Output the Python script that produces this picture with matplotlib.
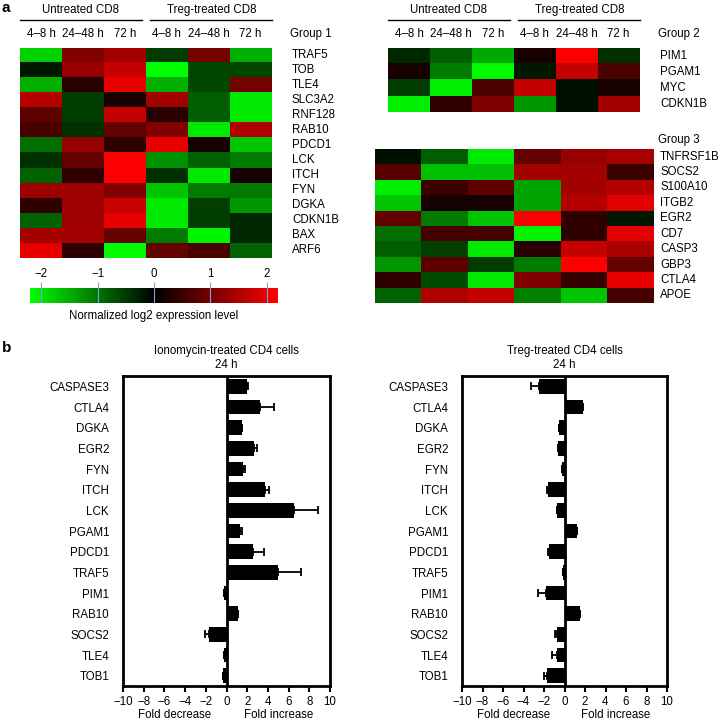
import matplotlib.pyplot as plt
import numpy as np
from matplotlib.colors import LinearSegmentedColormap
from matplotlib.transforms import blended_transform_factory

plt.rcParams["font.family"] = ["Liberation Sans", "DejaVu Sans"]
FS = 8.3

# ---- data -------------------------------------------------------------
conditions = ["Untreated CD8", "Treg-treated CD8"]
time_points = ["4–8 h", "24–48 h", "72 h"]

group1_genes = ["TRAF5", "TOB", "TLE4", "SLC3A2", "RNF128", "RAB10", "PDCD1",
                "LCK", "ITCH", "FYN", "DGKA", "CDKN1B", "BAX", "ARF6"]
group1_values = [
    [-1.8, 1.1, 1.4, -0.5, 1.0, -1.5],
    [-0.2, 1.3, 1.7, -2.2, -0.6, -0.6],
    [-1.5, 0.35, 2.0, -1.5, -0.6, 1.0],
    [1.55, -0.5, 0.2, 1.4, -0.8, -2.0],
    [0.8, -0.5, 1.7, 0.35, -0.8, -2.0],
    [0.6, -0.4, 0.85, 1.1, -2.0, 1.5],
    [-0.95, 1.3, 0.4, 2.0, 0.2, -1.7],
    [-0.4, 0.85, 2.15, -1.25, -0.85, -1.05],
    [-0.85, 0.4, 2.15, -0.4, -2.0, 0.2],
    [1.35, 1.35, 1.1, -1.7, -1.05, -1.05],
    [0.4, 1.35, 1.75, -2.0, -0.55, -1.3],
    [-0.85, 1.35, 2.0, -2.0, -0.5, -0.35],
    [1.4, 1.4, 0.85, -1.05, -2.1, -0.35],
    [2.0, 0.4, -2.15, 0.85, 0.65, -0.85],
]

group2_genes = ["PIM1", "PGAM1", "MYC", "CDKN1B"]
group2_values = [
    [-0.35, -0.8, -1.45, 0.2, 2.15, -0.4],
    [0.2, -1.05, -2.15, -0.2, 1.7, 0.65],
    [-0.5, -2.05, 0.65, 1.7, -0.15, 0.2],
    [-2.05, 0.4, 1.1, -1.3, -0.15, 1.4],
]

group3_genes = ["TNFRSF1B", "SOCS2", "S100A10", "ITGB2", "EGR2", "CD7",
                "CASP3", "GBP3", "CTLA4", "APOE"]
group3_values = [
    [-0.15, -0.8, -2.0, 0.85, 1.3, 1.45],
    [0.75, -1.65, -1.65, 1.4, 1.4, 0.5],
    [-2.05, 0.5, 0.8, -1.4, 1.4, 1.55],
    [-1.7, 0.2, 0.2, -1.4, 1.55, 1.95],
    [0.85, -1.05, -1.7, 2.15, 0.4, -0.2],
    [-0.95, 0.6, 0.6, -2.1, 0.4, 1.95],
    [-0.8, -0.55, -2.0, 0.35, 1.7, 1.45],
    [-1.3, 0.8, -0.5, -1.05, 2.15, 0.85],
    [0.4, -0.65, -2.0, 1.1, 0.45, 2.0],
    [-0.85, 1.5, 1.7, -1.1, -1.7, 0.6],
]

cbar_ticks = [-2, -1, 0, 1, 2]

bar_genes = ["CASPASE3", "CTLA4", "DGKA", "EGR2", "FYN", "ITCH", "LCK", "PGAM1",
             "PDCD1", "TRAF5", "PIM1", "RAB10", "SOCS2", "TLE4", "TOB1"]
iono_fold = [2.0, 3.2, 1.5, 2.7, 1.6, 3.7, 6.5, 1.35, 2.6, 5.0, -0.25, 1.1, -1.65, -0.2, -0.35]
iono_err = [0.1, 1.4, 0.0, 0.2, 0.2, 0.4, 2.3, 0.1, 1.0, 2.2, 0.0, 0.0, 0.45, 0.0, 0.0]
treg_fold = [-2.45, 1.8, -0.5, -0.65, -0.25, -1.6, -0.7, 1.2, -1.5, -0.15, -1.8, 1.5, -0.7, -0.75, -1.7]
treg_err = [0.8, 0.0, 0.0, 0.0, 0.0, 0.1, 0.0, 0.0, 0.1, 0.0, 0.75, 0.0, 0.2, 0.45, 0.3]

# ---- layout -----------------------------------------------------------
W, H = 720, 722
fig = plt.figure(figsize=(7.2, 7.22), dpi=100)
cmap = LinearSegmentedColormap.from_list("gkr", ["#00ff00", "#000000", "#ff0000"])
VMIN, VMAX = -2.2, 2.2


def rect(l, t, r, b):
    # pixel box (from top-left) -> figure fraction
    return [l / W, 1 - b / H, (r - l) / W, (b - t) / H]


def heatmap(l, t, r, b, genes, values, group, header=True):
    ax = fig.add_axes(rect(l, t, r, b))
    im = ax.imshow(np.array(values), cmap=cmap, vmin=VMIN, vmax=VMAX,
                   aspect="auto", interpolation="nearest")
    ax.set_axis_off()
    trans = blended_transform_factory(ax.transAxes, ax.transData)
    for i, g in enumerate(genes):
        ax.text(1.0 + 7 / (r - l), i, g, transform=trans, ha="left",
                va="center", fontsize=FS)
    xt = blended_transform_factory(ax.transData, ax.transAxes)
    if header:
        for j in range(6):
            ax.text(j, 1 + 14 / (b - t), time_points[j % 3], transform=xt,
                    ha="center", va="center", fontsize=FS)
        for k, name in enumerate(conditions):
            x0, x1 = (-0.52, 2.4) if k == 0 else (2.6, 5.52)
            ax.plot([x0, x1], [1 + 28 / (b - t)] * 2, transform=xt,
                    color="black", lw=1, clip_on=False)
            ax.text((x0 + x1) / 2, 1 + 38 / (b - t), name, transform=xt,
                    ha="center", va="center", fontsize=FS)
        gy = 14
    else:
        gy = 9
    ax.text(1.0 + 5 / (r - l), 1 + gy / (b - t), group, transform=ax.transAxes,
            ha="left", va="center", fontsize=FS)
    return ax, im


ax1, im = heatmap(7, 48, 285, 258, group1_genes, group1_values, "Group 1")
heatmap(375, 48, 653, 112, group2_genes, group2_values, "Group 2")
heatmap(375, 149, 653, 303, group3_genes, group3_values, "Group 3", header=False)

# colour bar
cax = fig.add_axes(rect(30, 288, 278, 303))
cb = fig.colorbar(im, cax=cax, orientation="horizontal", ticks=cbar_ticks)
cb.outline.set_visible(False)
cax.xaxis.set_ticks_position("top")
cax.xaxis.set_label_position("bottom")
cax.tick_params(axis="x", direction="out", length=4, width=0.8,
                color="#7aa2d6", labelsize=FS, pad=2)
for v in cbar_ticks:
    cax.axvline(v, color="#7aa2d6", lw=0.8)
cax.set_xlabel("Normalized log2 expression level", fontsize=FS, labelpad=5)


# ---- bar panels -------------------------------------------------------
def bar_panel(l, r, title, fold, err):
    ax = fig.add_axes(rect(l, 376, r, 686))
    fold = np.array(fold)
    err = np.array(err)
    y = np.arange(len(bar_genes))
    # error bars only on the outer side of each bar
    xerr = np.vstack([np.where(fold < 0, err, 0), np.where(fold >= 0, err, 0)])
    ax.barh(y, fold, height=0.72, color="black", xerr=xerr,
            error_kw=dict(ecolor="black", elinewidth=1.3, capsize=3, capthick=1.3))
    ax.axvline(0, color="black", lw=2)
    ax.set_xlim(-10, 10)
    ax.set_ylim(len(bar_genes) - 0.5, -0.5)
    ax.set_xticks(range(-10, 11, 2))
    ax.set_yticks(y)
    ax.set_yticklabels(bar_genes)
    for s in ax.spines.values():
        s.set_linewidth(2)
    ax.tick_params(axis="y", length=0, pad=10, labelsize=FS)
    ax.tick_params(axis="x", direction="out", length=4, width=1.5,
                   labelsize=FS, pad=3)
    ax.text(0.5, 1 + 18 / 310, title + "\n24 h", transform=ax.transAxes,
            ha="center", va="center", fontsize=FS, linespacing=1.3)
    xt = blended_transform_factory(ax.transData, ax.transAxes)
    ax.text(-5, -29 / 310, "Fold decrease", transform=xt, ha="center",
            va="center", fontsize=FS)
    ax.text(5, -29 / 310, "Fold increase", transform=xt, ha="center",
            va="center", fontsize=FS)
    return ax


bar_panel(123, 330, "Ionomycin-treated CD4 cells", iono_fold, iono_err)
bar_panel(462, 667, "Treg-treated CD4 cells", treg_fold, treg_err)

fig.text(2 / W, 1 - 8 / H, "a", fontsize=11, fontweight="bold", va="center")
fig.text(2 / W, 1 - 348 / H, "b", fontsize=11, fontweight="bold", va="center")

fig.savefig("out.png", dpi=100)
